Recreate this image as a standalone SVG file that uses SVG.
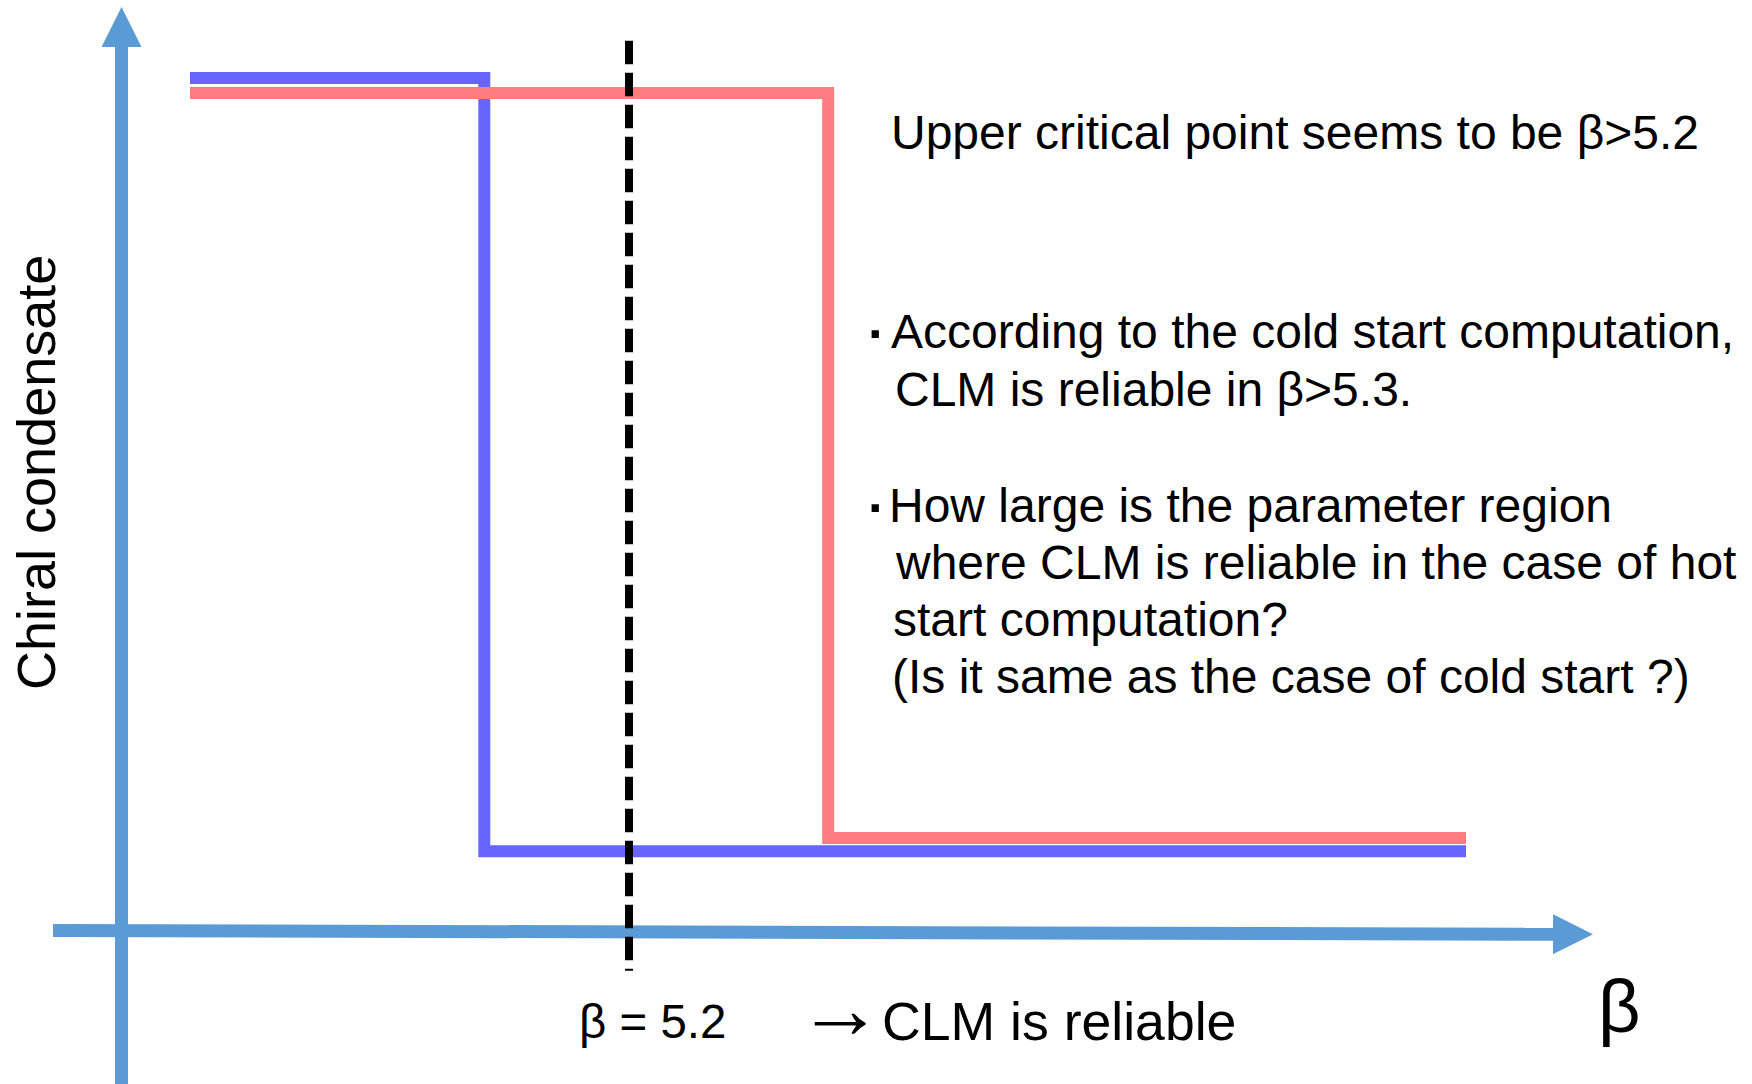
<svg xmlns="http://www.w3.org/2000/svg" width="1752" height="1084" viewBox="0 0 1752 1084">
  <defs>
    <style>
      .axis { stroke: #5B9BD5; stroke-width: 13; fill: none; }
      .curve { stroke-width: 12; fill: none; stroke-linejoin: miter; stroke-linecap: butt; }
      .cold { stroke: #6666FF; }
      .hot { stroke: #FF7C80; }
      .guide { stroke: #000000; stroke-width: 8; stroke-dasharray: 23.5 8.5; fill: none; }
      .txt { font-family: "Liberation Sans", Arial, sans-serif; fill: #000000; }
      .note { font-size: 48px; }
      .bullet { font-size: 52px; font-weight: bold; }
    </style>
    <marker id="axis-head" markerUnits="userSpaceOnUse" markerWidth="40" markerHeight="40" refX="0" refY="20" orient="auto" viewBox="0 0 40 40">
      <path d="M0,0 L40,20 L0,40 Z" fill="#5B9BD5"/>
    </marker>
  </defs>

  <rect width="1752" height="1084" fill="#FFFFFF"/>

  <!-- coordinate axes -->
  <g id="axes">
    <line class="axis" x1="121.5" y1="1084" x2="121.5" y2="47" marker-end="url(#axis-head)"/>
    <line class="axis" x1="53" y1="930.5" x2="1553" y2="934.2" marker-end="url(#axis-head)"/>
  </g>

  <!-- step curves -->
  <g id="curve-cold">
    <polyline class="curve cold" points="190,78 484.3,78 484.3,851.3 1466,851.3"/>
  </g>
  <g id="curve-hot">
    <polyline class="curve hot" points="190,93 828.2,93 828.2,838 1466,838"/>
  </g>

  <!-- beta = 5.2 guide -->
  <g id="guide-line">
    <line class="guide" x1="629" y1="40.7" x2="629" y2="970.7"/>
  </g>

  <!-- axis labels -->
  <g id="label-y">
    <text class="txt" font-size="54" transform="translate(55,690) rotate(-90)">Chiral condensate</text>
  </g>
  <g id="label-x">
    <text class="txt" font-size="74" x="1598" y="1032">β</text>
  </g>

  <!-- annotations under the axis -->
  <g id="label-beta52">
    <text class="txt" font-size="47.5" x="579" y="1038">β = 5.2</text>
  </g>
  <g id="label-reliable">
    <text class="txt" font-size="86" x="797" y="1038">→</text>
    <text class="txt" font-size="53.6" x="882" y="1040">CLM is reliable</text>
  </g>

  <!-- notes on the right -->
  <g id="note-upper">
    <text class="txt note" x="891" y="149">Upper critical point seems to be β&gt;5.2</text>
  </g>
  <g id="note-cold">
    <text class="txt bullet" x="868" y="351">·</text>
    <text class="txt note" x="891" y="348">According to the cold start computation,</text>
    <text class="txt note" x="895" y="406">CLM is reliable in β&gt;5.3.</text>
  </g>
  <g id="note-hot">
    <text class="txt bullet" x="868" y="525">·</text>
    <text class="txt note" x="889" y="522">How large is the parameter region</text>
    <text class="txt note" x="896" y="579">where CLM is reliable in the case of hot</text>
    <text class="txt note" x="893" y="636">start computation?</text>
    <text class="txt note" x="892" y="693">(Is it same as the case of cold start ?)</text>
  </g>
</svg>
